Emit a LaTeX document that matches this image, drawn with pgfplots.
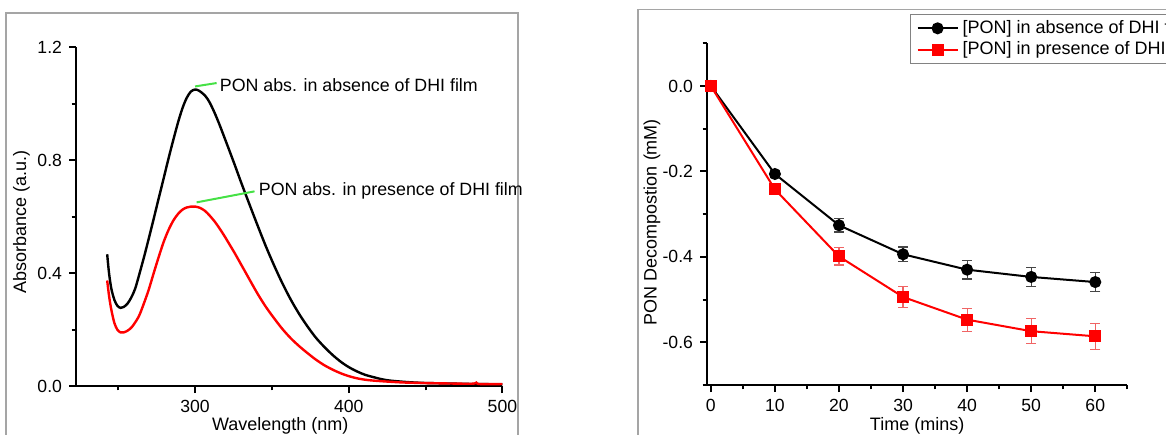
\documentclass[border=0pt]{standalone}
\usepackage{fontspec}
\setmainfont{Liberation Sans}
\usepackage{pgfplots}
\usepackage{pgfplotstable}
\pgfplotsset{compat=1.18}
\definecolor{pgreen}{RGB}{70,225,70}
\definecolor{ebblack}{RGB}{70,70,70}
\definecolor{ebred}{RGB}{240,100,100}
\definecolor{framegray}{RGB}{165,165,165}
\definecolor{leggray}{RGB}{130,130,130}

\pgfplotstableread{
wl A
242.8 0.467
244.0 0.400
245.5 0.345
247.5 0.305
249.5 0.284
251.5 0.277
253.5 0.280
256.0 0.292
258.5 0.314
261.0 0.345
263.5 0.392
267.0 0.462
270.0 0.526
273.3 0.598
276.3 0.665
279.5 0.735
282.5 0.802
286.0 0.876
289.2 0.940
292.0 0.988
294.6 1.022
297.3 1.044
300.0 1.051
302.5 1.047
306.4 1.030
309.5 1.005
312.9 0.966
316.0 0.925
319.3 0.878
322.5 0.832
325.8 0.784
329.0 0.736
332.3 0.688
336.5 0.628
340.9 0.566
346.0 0.496
351.7 0.424
357.0 0.362
362.5 0.304
368.0 0.253
373.3 0.210
378.5 0.172
384.0 0.139
389.5 0.110
394.8 0.086
400.0 0.067
405.6 0.051
411.0 0.039
416.4 0.031
421.5 0.024
427.1 0.019
437.9 0.014
448.0 0.011
459.4 0.0095
481.0 0.007
500.0 0.006
}\absent

\pgfplotstableread{
wl A
242.8 0.374
244.0 0.320
245.5 0.270
247.5 0.223
249.5 0.199
251.5 0.190
253.5 0.190
256.0 0.196
259.0 0.210
263.3 0.246
266.5 0.290
269.8 0.341
273.0 0.399
276.3 0.457
279.5 0.510
282.7 0.553
286.0 0.588
289.2 0.612
292.0 0.626
294.6 0.633
297.3 0.636
300.0 0.636
303.0 0.632
306.4 0.621
309.5 0.604
312.9 0.582
316.0 0.558
319.3 0.530
322.5 0.501
325.8 0.471
329.0 0.440
332.3 0.408
336.5 0.367
340.9 0.325
346.0 0.281
351.7 0.238
357.0 0.201
362.5 0.168
368.0 0.140
373.3 0.116
378.5 0.094
384.0 0.074
389.5 0.058
394.8 0.045
400.0 0.035
405.6 0.027
411.0 0.022
416.4 0.019
427.0 0.015
437.9 0.012
459.4 0.0095
480.0 0.008
483.0 0.012
485.0 0.007
500.0 0.007
}\present

\pgfplotstableread{
t y e
0 0 0
10 -0.206 0.008
20 -0.326 0.016
30 -0.394 0.017
40 -0.430 0.022
50 -0.447 0.023
60 -0.459 0.023
}\decabs

\pgfplotstableread{
t y e
0 0 0
10 -0.242 0.010
20 -0.399 0.020
30 -0.494 0.025
40 -0.547 0.027
50 -0.574 0.029
60 -0.586 0.030
}\decpres

\pgfplotsset{myaxis/.style={
  scale only axis, anchor=south west, clip=false,
  axis x line*=bottom, axis y line*=left,
  axis line style={line width=1.2pt},
  tick align=outside,
  major tick length=3.5pt, minor tick length=2.2pt,
  every tick/.append style={black, line width=1pt},
  tick label style={font=\fontsize{8.8}{10}\selectfont},
  label style={font=\fontsize{9}{11}\selectfont},
  /pgf/number format/assume math mode=true,
}}

\begin{document}
\begin{tikzpicture}
\useasboundingbox (0,0) rectangle (583pt,217pt);
\clip (0,0) rectangle (583pt,217pt);
\draw[framegray, line width=0.8pt] (3pt,-10pt) rectangle (259pt,210.5pt);
\draw[framegray, line width=0.8pt] (318.9pt,-10pt) rectangle (600pt,212.3pt);

\begin{axis}[myaxis,
  at={(38pt,24pt)}, width=213.2pt, height=169.25pt,
  xmin=222.5, xmax=500, ymin=0, ymax=1.2,
  xtick={300,400,500}, minor xtick={250,350,450},
  ytick={0,0.4,0.8,1.2}, minor ytick={0.2,0.6,1.0},
  yticklabel style={/pgf/number format/.cd, fixed, fixed zerofill, precision=1},
  xlabel={Wavelength (nm)}, ylabel={Absorbance (a.u.)},
  xlabel style={at={(axis description cs:0.479,-0.13)}, anchor=base},
  ylabel style={at={(axis description cs:-0.128,0.484)}, anchor=center},
]
\addplot[black, line width=1.2pt, smooth] table[x=wl, y=A] {\absent};
\addplot[red, line width=1.2pt, smooth] table[x=wl, y=A] {\present};
\draw[pgreen, line width=1pt] (axis cs:300,1.062) -- (axis cs:314,1.074);
\node[anchor=west, inner sep=0pt, font=\fontsize{8.9}{11}\selectfont] at (axis cs:315.9,1.068) {PON abs. in absence of DHI film};
\draw[pgreen, line width=1pt] (axis cs:301,0.651) -- (axis cs:338.7,0.690);
\node[anchor=west, inner sep=0pt, font=\fontsize{8.9}{11}\selectfont] at (axis cs:341.3,0.690) {PON abs. in presence of DHI film};
\end{axis}

\begin{axis}[myaxis,
  at={(353.5pt,24.5pt)}, width=210.15pt, height=170.85pt,
  xmin=-0.6, xmax=65, ymin=-0.7, ymax=0.1,
  xtick={0,10,20,30,40,50,60}, minor xtick={5,15,25,35,45,55,65},
  ytick={-0.6,-0.4,-0.2,0}, yticklabels={{-0.6},{-0.4},{-0.2},{0.0}},
  minor ytick={-0.7,-0.5,-0.3,-0.1,0.1},
  xlabel={Time (mins)}, ylabel={PON Decompostion (mM)},
  xlabel style={at={(axis description cs:0.5,-0.132)}, anchor=base},
  ylabel style={at={(axis description cs:-0.131,0.477)}, anchor=center},
  legend style={at={(axis description cs:0.483,1.086)}, anchor=north west,
    draw=leggray, line width=0.6pt, font=\fontsize{9}{10.5}\selectfont,
    inner xsep=3pt, inner ysep=1.5pt, row sep=0pt,
    nodes={inner xsep=2pt, inner ysep=1.4pt}},
  legend cell align=left,
  legend image code/.code={\draw[mark repeat=2, mark phase=2] plot coordinates {(0pt,0pt) (10pt,0pt) (20pt,0pt)};},
]
\addplot[black, line width=1pt, mark=*, mark size=2.5pt,
  error bars/.cd, y dir=both, y explicit,
  error bar style={ebblack, line width=0.6pt},
  error mark options={ebblack, rotate=90, mark size=2.5pt, line width=0.6pt}]
  table[x=t, y=y, y error=e] {\decabs};
\addlegendentry{[PON] in absence of DHI film}
\addplot[red, line width=1pt, mark=square*, mark size=2.5pt,
  error bars/.cd, y dir=both, y explicit,
  error bar style={ebred, line width=0.6pt},
  error mark options={ebred, rotate=90, mark size=2.5pt, line width=0.6pt}]
  table[x=t, y=y, y error=e] {\decpres};
\addlegendentry{[PON] in presence of DHI film}
\end{axis}
\end{tikzpicture}
\end{document}
